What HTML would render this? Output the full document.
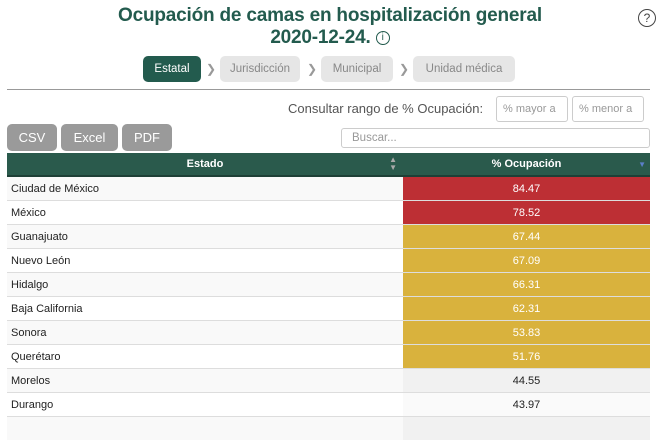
<!DOCTYPE html>
<html><head><meta charset="utf-8"><style>
body{margin:0;width:660px;height:423px;overflow:hidden;background:#fff;font-family:"Liberation Sans",sans-serif;color:#222;position:relative}
.t{position:absolute;left:0;width:660px;text-align:center;color:#235b4e;font-size:19px;font-weight:bold;letter-spacing:-0.2px}
.abs{position:absolute}
.bc{position:absolute;top:56px;height:26px;border-radius:5px;background:#e6e6e6;color:#888;font-size:11.5px;line-height:26px;text-align:center}
.ch{position:absolute;top:56px;line-height:26px;color:#999;font-size:12px}
.btn{position:absolute;top:124px;height:27px;background:#9a9a9a;border-radius:5px;color:#fff;font-size:13px;line-height:27px;text-align:center}
.inp{position:absolute;border:1px solid #ccc;border-radius:3px;color:#999;font-size:11px;box-sizing:border-box;padding-left:6px}
table{position:absolute;left:7px;top:153px;width:643px;border-collapse:collapse;font-size:11px}
th{background:#2a5a4c;color:#fff;height:22px;font-size:11px;border-bottom:2px solid #1e3f36;padding:0}
td{height:23px;border-top:1px solid #ddd;padding:0 0 0 4px}
td.v{text-align:center;width:247px;padding:0}
tr.o td{background:#f9f9f9}
tr.o td.v{background:#f1f1f1}
tr.e td.v{background:#fafafa}
td.r{background:#bd2f34!important;color:#fff}
td.y{background:#d9b23d!important;color:#fff}
</style></head><body>
<div class="t" style="top:5px">Ocupación de camas en hospitalización general</div>
<div class="t" style="top:27px">2020-12-24. <span style="font-weight:normal;border:1px solid #235b4e;border-radius:50%;display:inline-block;width:12px;height:12px;line-height:12px;font-size:10px;vertical-align:3px">i</span></div>
<div class="abs" style="left:638px;top:9px;width:16px;height:16px;border:1.5px solid #444;border-radius:50%;text-align:center;font-size:12px;line-height:16px;color:#444">?</div>
<div class="bc" style="left:143px;width:58px;background:#235b4e;color:#fff">Estatal</div>
<div class="ch" style="left:206px">❯</div>
<div class="bc" style="left:220px;width:80px">Jurisdicción</div>
<div class="ch" style="left:307px">❯</div>
<div class="bc" style="left:321px;width:72px">Municipal</div>
<div class="ch" style="left:399px">❯</div>
<div class="bc" style="left:413px;width:102px">Unidad médica</div>
<div class="abs" style="left:7px;top:89px;width:643px;height:1px;background:#999"></div>
<div class="abs" style="left:288px;top:101px;font-size:13px;color:#555">Consultar rango de % Ocupación:</div>
<div class="inp" style="left:496px;top:96px;width:72px;height:26px;line-height:24px">% mayor a</div>
<div class="inp" style="left:572px;top:96px;width:72px;height:26px;line-height:24px">% menor a</div>
<div class="btn" style="left:7px;width:50px">CSV</div>
<div class="btn" style="left:61px;width:57px">Excel</div>
<div class="btn" style="left:122px;width:50px">PDF</div>
<div class="inp" style="left:341px;top:128px;width:309px;height:20px;line-height:18px;font-size:11.5px;padding-left:10px">Buscar...</div>
<table>
<tr><th style="position:relative">Estado<span style="position:absolute;right:6px;top:3px;font-size:8px;line-height:8px;color:#aaa">▲<br>▼</span></th><th style="position:relative;width:247px">% Ocupación<span style="position:absolute;right:4px;top:7px;font-size:8px;color:#5b7fc9">▼</span></th></tr>
<tr class="o"><td>Ciudad de México</td><td class="v r">84.47</td></tr>
<tr class="e"><td>México</td><td class="v r">78.52</td></tr>
<tr class="o"><td>Guanajuato</td><td class="v y">67.44</td></tr>
<tr class="e"><td>Nuevo León</td><td class="v y">67.09</td></tr>
<tr class="o"><td>Hidalgo</td><td class="v y">66.31</td></tr>
<tr class="e"><td>Baja California</td><td class="v y">62.31</td></tr>
<tr class="o"><td>Sonora</td><td class="v y">53.83</td></tr>
<tr class="e"><td>Querétaro</td><td class="v y">51.76</td></tr>
<tr class="o"><td>Morelos</td><td class="v">44.55</td></tr>
<tr class="e"><td>Durango</td><td class="v">43.97</td></tr>
<tr class="o"><td></td><td class="v"></td></tr>
</table>
</body></html>
